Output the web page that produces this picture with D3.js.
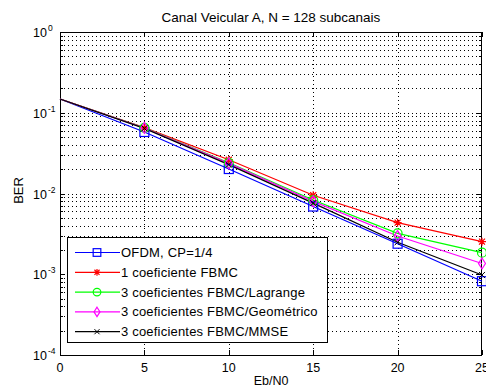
<!DOCTYPE html>
<html>
<head>
<meta charset="utf-8">
<script src="https://cdn.jsdelivr.net/npm/d3@7"></script>
<style>
  body { margin: 0; background: #fff; }
  text { font-family: "Liberation Sans", Arial, sans-serif; fill: #000; }
</style>
</head>
<body>
<div id="chart"></div>
<script>
const W = 486, H = 389;
const m = { left: 60, right: 4, top: 32, bottom: 34 };

const snr = [0, 5, 10, 15, 20, 25];
const names = ['OFDM, CP=1/4', '1 coeficiente FBMC', '3 coeficientes FBMC/Lagrange',
  '3 coeficientes FBMC/Geométrico', '3 coeficientes FBMC/MMSE'];
const colors = ['#0000ff', '#ff0000', '#00ff00', '#ff00ff', '#000000'];
const markers = ['square', 'star', 'circle', 'diamond', 'x'];
const ofdm = [0.148, 0.0578, 0.0201, 0.0069, 0.00239, 0.00082];
const fbmc1 = [0.148, 0.0655, 0.0262, 0.0095, 0.00435, 0.00253];
const lagrange = [0.148, 0.0650, 0.0240, 0.0083, 0.00321, 0.00185];
const geom = [0.148, 0.0648, 0.0236, 0.0080, 0.00298, 0.00136];
const mmse = [0.148, 0.0640, 0.0228, 0.0076, 0.00249, 0.00098];
const series = [ofdm, fbmc1, lagrange, geom, mmse];
const xTicks = [0, 5, 10, 15, 20, 25];
const yExp = [0, -1, -2, -3, -4];

const svg = d3.select('#chart').append('svg')
  .attr('width', W).attr('height', H);

const x = d3.scaleLinear().domain([0, 25]).range([m.left, W - m.right]);
const y = d3.scaleLog().domain([1e-4, 1]).range([H - m.bottom, m.top]);

const x0 = m.left, x1 = W - m.right, y0 = m.top, y1 = H - m.bottom;

// grid
const grid = svg.append('g').attr('stroke', '#000').attr('stroke-width', 1)
  .attr('stroke-dasharray', '1,3').attr('shape-rendering', 'crispEdges');
xTicks.slice(1, -1).forEach(t => {
  grid.append('line').attr('x1', Math.round(x(t)) + 0.5).attr('x2', Math.round(x(t)) + 0.5)
    .attr('y1', y0).attr('y2', y1);
});
const yMinor = [];
for (let e = -4; e < 0; e++) {
  for (let k = 1; k < 10; k++) yMinor.push(k * Math.pow(10, e));
}
yMinor.forEach(v => {
  grid.append('line').attr('x1', x0).attr('x2', x1)
    .attr('y1', Math.round(y(v)) + 0.5).attr('y2', Math.round(y(v)) + 0.5);
});

// ticks (inside, both sides)
const ticks = svg.append('g').attr('stroke', '#000').attr('shape-rendering', 'crispEdges');
yMinor.forEach(v => {
  const len = Math.abs(Math.log10(v) % 1) < 1e-9 ? 5 : 3;
  const yy = Math.round(y(v)) + 0.5;
  ticks.append('line').attr('x1', x0).attr('x2', x0 + len).attr('y1', yy).attr('y2', yy);
  ticks.append('line').attr('x1', x1 - len).attr('x2', x1).attr('y1', yy).attr('y2', yy);
});
xTicks.forEach(t => {
  const xx = Math.round(x(t)) + 0.5;
  ticks.append('line').attr('x1', xx).attr('x2', xx).attr('y1', y1).attr('y2', y1 - 5);
  ticks.append('line').attr('x1', xx).attr('x2', xx).attr('y1', y0).attr('y2', y0 + 5);
});

// box
svg.append('rect').attr('x', x0 + 0.5).attr('y', y0 + 0.5)
  .attr('width', x1 - x0 - 1).attr('height', y1 - y0)
  .attr('fill', 'none').attr('stroke', '#000').attr('shape-rendering', 'crispEdges');

// tick labels
xTicks.forEach(t => {
  svg.append('text').attr('x', x(t)).attr('y', y1 + 17)
    .attr('text-anchor', 'middle').attr('font-size', 12.5).text(t);
});
yExp.forEach(e => {
  svg.append('text').attr('x', x0 - 13).attr('y', y(Math.pow(10, e)) + 5)
    .attr('text-anchor', 'end').attr('font-size', 12.5).text('10');
  svg.append('text').attr('x', x0 - 12).attr('y', y(Math.pow(10, e)) - 1)
    .attr('font-size', 8.5).text(e);
});

// titles
svg.append('text').attr('x', (x0 + x1) / 2).attr('y', 22).attr('text-anchor', 'middle')
  .attr('font-size', 13.5).text('Canal Veicular A, N = 128 subcanais');
svg.append('text').attr('x', (x0 + x1) / 2).attr('y', H - 4).attr('text-anchor', 'middle')
  .attr('font-size', 12.5).text('Eb/N0');
svg.append('text').attr('transform', `translate(23,${(y0 + y1) / 2 - 3}) rotate(-90)`)
  .attr('text-anchor', 'middle').attr('font-size', 13).text('BER');

function drawMarker(g, type, cx, cy, color, s) {
  const sw = 1.2;
  if (type === 'square') {
    g.append('rect').attr('x', cx - 4.5 * s).attr('y', cy - 4.5 * s).attr('width', 9 * s).attr('height', 9 * s)
      .attr('fill', 'none').attr('stroke', color).attr('stroke-width', sw);
  } else if (type === 'circle') {
    g.append('circle').attr('cx', cx).attr('cy', cy).attr('r', 4.5 * s)
      .attr('fill', 'none').attr('stroke', color).attr('stroke-width', sw);
  } else if (type === 'diamond') {
    g.append('path').attr('d', `M${cx},${cy - 5.5 * s}L${cx + 3.5 * s},${cy}L${cx},${cy + 5.5 * s}L${cx - 3.5 * s},${cy}Z`)
      .attr('fill', 'none').attr('stroke', color).attr('stroke-width', sw);
  } else if (type === 'star') {
    const r = 4 * s, d = 3 * s;
    g.append('path').attr('d',
      `M${cx - r},${cy}L${cx + r},${cy}M${cx},${cy - r}L${cx},${cy + r}` +
      `M${cx - d},${cy - d}L${cx + d},${cy + d}M${cx - d},${cy + d}L${cx + d},${cy - d}`)
      .attr('stroke', color).attr('stroke-width', sw);
  } else if (type === 'x') {
    const d = 3 * s;
    g.append('path').attr('d',
      `M${cx - d},${cy - d}L${cx + d},${cy + d}M${cx - d},${cy + d}L${cx + d},${cy - d}`)
      .attr('stroke', color).attr('stroke-width', 1);
  }
}

// series
const line = d3.line().x((d, i) => x(snr[i])).y(d => y(d));
const plot = svg.append('g');
series.forEach((s, k) => {
  plot.append('path').datum(s).attr('d', line).attr('fill', 'none')
    .attr('stroke', colors[k]).attr('stroke-width', 1.2);
});
series.forEach((s, k) => {
  s.forEach((v, i) => { if (i > 0) drawMarker(plot, markers[k], x(snr[i]), y(v), colors[k], 1); });
});

// legend
const lg = svg.append('g');
lg.append('rect').attr('x', 67.5).attr('y', 237.5).attr('width', 260).attr('height', 105)
  .attr('fill', '#fff').attr('stroke', '#000').attr('shape-rendering', 'crispEdges');
names.forEach((n, k) => {
  const yy = 252.5 + k * 19.8;
  lg.append('line').attr('x1', 75).attr('x2', 120).attr('y1', yy).attr('y2', yy)
    .attr('stroke', colors[k]).attr('stroke-width', 1.2);
  drawMarker(lg, markers[k], 97, yy, colors[k], 0.85);
  lg.append('text').attr('x', 121).attr('y', yy + 4.5).attr('font-size', 13)
    .attr('letter-spacing', 0.2).text(n);
});
</script>
</body>
</html>
